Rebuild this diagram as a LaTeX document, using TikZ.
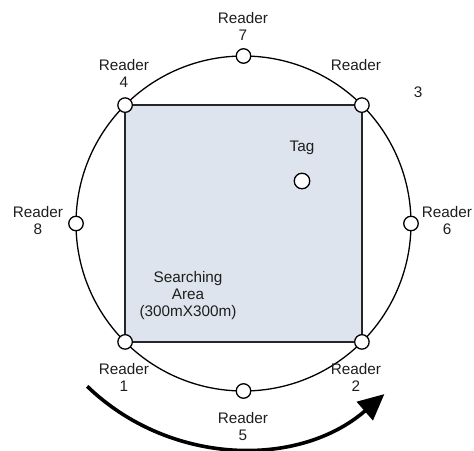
\documentclass[tikz,border=0pt]{standalone}
\usepackage{fontspec}
\setmainfont{Liberation Sans}
\usetikzlibrary{arrows.meta}
\definecolor{areafill}{RGB}{222,228,237}
\definecolor{txt}{RGB}{30,30,30}
\tikzset{
  reader/.style={circle,draw=black,fill=white,line width=1.3pt,minimum size=14.5pt,inner sep=0pt},
  lbl/.style={font=\fontsize{15.3}{17}\selectfont,text=txt,align=center,inner sep=0pt},
  ring/.style={draw=black,line width=1.3pt},
  area/.style={draw=black!85,line width=1.8pt,fill=areafill},
  turn/.style={line width=3.6pt,-{Triangle[length=26pt,width=24pt]}}
}
\begin{document}
\begin{tikzpicture}[x=1pt,y=-1pt]
\useasboundingbox (0,0) rectangle (474,450);
\coordinate (C) at (243.5,223.5);
\draw[ring] (C) circle[radius=167.5];
\coordinate (c4) at (125.1,105.1);
\coordinate (c2) at (361.9,341.9);
\draw[area] (c4) rectangle (c2);
\node[reader] (r4) at (125.1,105.1) {};
\node[reader] (r3) at (361.9,105.1) {};
\node[reader] (r1) at (125.1,341.9) {};
\node[reader] (r2) at (361.9,341.9) {};
\node[reader] (r7) at (243.5,56) {};
\node[reader] (r5) at (243.5,391) {};
\node[reader] (r8) at (76,223.5) {};
\node[reader] (r6) at (411,223.5) {};
\node[reader,minimum size=15.5pt] (tag) at (302,181) {};
\node[lbl] (l7) at (243,26.5) {Reader\\7};
\node[lbl] (l4) at (124,73.5) {Reader\\4};
\node[lbl] (l3a) at (356,65) {Reader};
\node[lbl] (l3b) at (418,92) {3};
\node[lbl] (l8) at (38,220.5) {Reader\\8};
\node[lbl] (l6) at (447,220.5) {Reader\\6};
\node[lbl] (l1) at (124,377.5) {Reader\\1};
\node[lbl] (l2) at (356,377.5) {Reader\\2};
\node[lbl] (l5) at (243,426.5) {Reader\\5};
\node[lbl] (ltag) at (302,148) {Tag};
\node[lbl] (larea) at (188,296) {Searching\\Area\\(300mX300m)};
\coordinate (as) at (87.2,386.3);
\draw[turn] (as) arc[start angle=134, end angle=49, radius=220];
\end{tikzpicture}
\end{document}
